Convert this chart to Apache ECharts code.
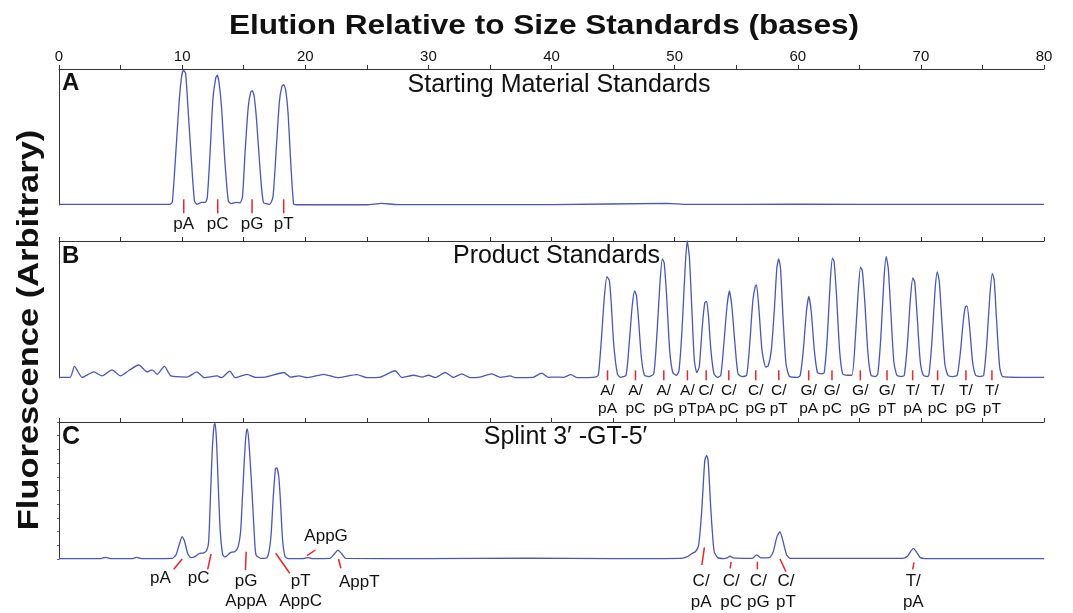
<!DOCTYPE html>
<html>
<head>
<meta charset="utf-8">
<title>Elution Relative to Size Standards</title>
<script src="https://cdn.jsdelivr.net/npm/echarts@6.0.0/dist/echarts.min.js"></script>
<style>
    html, body { margin: 0; padding: 0; background: #fff; }
    #chart { width: 1073px; height: 613px; }
</style>
</head>
<body>
<div id="chart"></div>
<script>
    // --- data: [bases, fluorescence 0..1] ---
    const traceA = [
        [0, 0.004], [5, 0.004], [9.0, 0.005], [9.2, 0.02], [9.5, 0.4], [9.75, 0.75], [9.95, 0.94], [10.1, 0.99],
        [10.28, 0.97], [10.45, 0.75], [10.7, 0.4], [11.0, 0.03], [11.2, 0.005], [11.6, 0.02], [11.9, 0.02],
        [12.05, 0.06], [12.28, 0.4], [12.5, 0.78], [12.72, 0.93], [12.85, 0.955], [13.0, 0.9], [13.2, 0.72],
        [13.45, 0.35], [13.75, 0.03], [14.0, 0.01], [14.4, 0.02], [14.7, 0.015], [14.9, 0.06], [15.12, 0.4],
        [15.37, 0.72], [15.57, 0.83], [15.7, 0.84], [15.85, 0.8], [16.05, 0.62], [16.3, 0.3], [16.6, 0.02],
        [17.1, 0.005], [17.38, 0.06], [17.65, 0.42], [17.9, 0.76], [18.1, 0.87], [18.25, 0.885], [18.4, 0.85],
        [18.6, 0.68], [18.8, 0.35], [19.05, 0.01], [19.3, 0.002], [25, 0.002], [26.2, 0.012], [27.5, 0.003],
        [40, 0.003], [49.4, 0.012], [51, 0.004], [60, 0.006], [70, 0.004], [80, 0.004]
    ];

    const traceB = [
        [0, 0.005], [0.9, 0.005], [1.26, 0.085], [1.88, 0.005], [2.83, 0.044], [3.5, 0.015], [4.3, 0.06],
        [5.0, 0.015], [5.67, 0.055], [6.48, 0.095], [7.16, 0.044], [7.56, 0.06], [7.97, 0.027], [8.56, 0.085],
        [9.1, 0.015], [10.4, 0.007], [11.2, 0.044], [11.8, 0.003], [12.84, 0.015], [13.2, 0.003], [13.87, 0.05],
        [14.3, 0.003], [15.27, 0.027], [15.95, 0.005], [16.75, 0.007], [18.25, 0.04], [18.8, 0.007], [19.5, 0.015],
        [20.2, 0.003], [21.5, 0.027], [22.6, 0.003], [24.2, 0.025], [25.0, 0.003], [26.1, 0.007], [27.3, 0.053],
        [27.86, 0.003], [28.8, 0.02], [29.5, 0.007], [30.0, 0.02], [30.56, 0.003], [31.37, 0.04], [32.05, 0.005],
        [32.7, 0.03], [33.4, 0.003], [34.2, 0.007], [35.16, 0.03], [35.84, 0.005], [36.65, 0.015], [37.05, 0.003],
        [38.5, 0.005], [39.2, 0.036], [39.76, 0.005], [40.3, 0.007], [41.0, 0.005], [41.57, 0.025], [42.06, 0.003],
        [43.55, 0.007],
        [43.8, 0.02], [44.05, 0.28], [44.3, 0.6], [44.5, 0.74], [44.7, 0.71], [44.85, 0.55], [45.05, 0.25], [45.35, 0.03], [45.6, 0.005],
        [46.05, 0.02], [46.3, 0.24], [46.55, 0.52], [46.75, 0.635], [46.9, 0.6], [47.05, 0.45], [47.3, 0.15], [47.55, 0.02], [47.9, 0.01],
        [48.3, 0.03], [48.55, 0.3], [48.8, 0.68], [49.0, 0.87], [49.15, 0.84], [49.35, 0.6], [49.6, 0.2], [49.85, 0.04], [50.15, 0.02],
        [50.35, 0.05], [50.6, 0.35], [50.85, 0.8], [51.02, 1.0], [51.2, 0.88], [51.4, 0.5], [51.6, 0.13], [51.8, 0.04],
        [52.0, 0.08], [52.25, 0.38], [52.45, 0.55], [52.6, 0.56], [52.75, 0.45], [52.95, 0.2], [53.2, 0.03], [53.5, 0.005],
        [53.75, 0.02], [54.0, 0.25], [54.25, 0.52], [54.45, 0.635], [54.65, 0.52], [54.9, 0.25], [55.15, 0.03], [55.5, 0.01],
        [55.85, 0.02], [56.1, 0.25], [56.35, 0.56], [56.55, 0.67], [56.65, 0.68], [56.85, 0.5], [57.1, 0.2], [57.4, 0.08], [57.6, 0.09],
        [57.85, 0.2], [58.1, 0.5], [58.3, 0.8], [58.45, 0.87], [58.6, 0.8], [58.8, 0.45], [59.05, 0.1], [59.35, 0.01], [60.0, 0.005],
        [60.2, 0.02], [60.45, 0.2], [60.7, 0.48], [60.9, 0.595], [61.1, 0.48], [61.35, 0.2], [61.6, 0.04], [61.9, 0.03],
        [62.15, 0.04], [62.4, 0.3], [62.65, 0.72], [62.82, 0.875], [62.95, 0.85], [63.15, 0.6], [63.4, 0.2], [63.65, 0.03], [64.0, 0.02],
        [64.4, 0.02], [64.65, 0.25], [64.9, 0.62], [65.1, 0.81], [65.25, 0.78], [65.45, 0.55], [65.7, 0.18], [65.95, 0.02], [66.3, 0.01],
        [66.5, 0.03], [66.75, 0.3], [67.0, 0.72], [67.18, 0.885], [67.35, 0.8], [67.55, 0.5], [67.8, 0.12], [68.05, 0.02], [68.4, 0.01],
        [68.65, 0.02], [68.9, 0.24], [69.15, 0.58], [69.35, 0.73], [69.5, 0.7], [69.7, 0.45], [69.95, 0.12], [70.2, 0.02], [70.5, 0.01],
        [70.65, 0.02], [70.9, 0.27], [71.15, 0.64], [71.33, 0.775], [71.5, 0.7], [71.7, 0.42], [71.95, 0.1], [72.2, 0.02], [72.6, 0.01],
        [72.95, 0.02], [73.2, 0.18], [73.45, 0.42], [73.62, 0.52], [73.75, 0.525], [73.95, 0.38], [74.2, 0.12], [74.45, 0.02], [74.8, 0.01],
        [75.1, 0.02], [75.35, 0.25], [75.6, 0.6], [75.8, 0.762], [75.95, 0.72], [76.15, 0.42], [76.4, 0.08], [76.65, 0.01],
        [78, 0.005], [80, 0.005]
    ];

    const traceC = [
        [0, 0.003], [3.4, 0.003], [3.78, 0.012], [4.2, 0.003], [6.0, 0.003], [6.3, 0.012], [6.7, 0.003],
        [9.2, 0.005], [9.5, 0.03], [9.75, 0.1], [10.0, 0.163], [10.2, 0.13], [10.45, 0.04], [10.7, 0.01],
        [11.0, 0.015], [11.4, 0.04], [11.75, 0.045], [11.98, 0.06], [12.15, 0.12], [12.3, 0.45], [12.45, 0.8],
        [12.6, 0.98], [12.68, 0.99], [12.8, 0.85], [12.95, 0.5], [13.1, 0.2], [13.3, 0.03], [13.5, 0.015],
        [13.9, 0.045], [14.3, 0.055], [14.55, 0.09], [14.75, 0.2], [14.9, 0.45], [15.05, 0.72], [15.18, 0.9],
        [15.28, 0.95], [15.4, 0.88], [15.55, 0.68], [15.7, 0.45], [15.85, 0.2], [16.0, 0.03], [16.4, 0.005],
        [16.9, 0.01], [17.2, 0.15], [17.4, 0.45], [17.58, 0.66], [17.68, 0.665], [17.85, 0.6], [18.0, 0.4],
        [18.15, 0.15], [18.35, 0.02], [18.6, 0.003], [19.8, 0.003], [20.2, 0.01], [20.6, 0.003], [22.0, 0.005],
        [22.35, 0.035], [22.65, 0.065], [22.95, 0.04], [23.3, 0.005], [30, 0.003], [38, 0.006], [45, 0.003],
        [50.5, 0.005], [51.0, 0.015], [51.4, 0.04], [51.7, 0.055], [51.95, 0.1], [52.2, 0.35], [52.45, 0.72],
        [52.6, 0.757], [52.72, 0.72], [52.95, 0.35], [53.2, 0.06], [53.5, 0.01], [54.0, 0.003], [54.3, 0.01],
        [54.5, 0.02], [54.75, 0.008], [56.3, 0.005], [56.65, 0.03], [57.0, 0.008], [57.7, 0.01], [58.0, 0.05],
        [58.3, 0.16], [58.55, 0.2], [58.8, 0.13], [59.1, 0.03], [59.4, 0.005], [68.5, 0.005], [68.9, 0.02],
        [69.2, 0.06], [69.4, 0.078], [69.65, 0.05], [69.95, 0.01], [70.3, 0.003], [80, 0.003]
    ];

    // peak labels
    const aLabelX = [10.13, 12.89, 15.68, 18.25];
    const aLabels = ['pA', 'pC', 'pG', 'pT'];

    const bLabelX = [44.55, 46.82, 49.12, 51.04, 52.56, 54.4, 56.59, 58.46, 60.89, 62.78, 65.08, 67.25, 69.33, 71.36, 73.66, 75.77];
    const bLabelTop = ['A/', 'A/', 'A/', 'A/', 'C/', 'C/', 'C/', 'C/', 'G/', 'G/', 'G/', 'G/', 'T/', 'T/', 'T/', 'T/'];
    const bLabelBottom = ['pA', 'pC', 'pG', 'pT', 'pA', 'pC', 'pG', 'pT', 'pA', 'pC', 'pG', 'pT', 'pA', 'pC', 'pG', 'pT'];

    const cLabelX = [10.0, 12.35, 15.2, 17.6, 20.15, 22.7, 52.42, 54.59, 56.72, 58.56, 69.44];
    const cLabelTop = ['pA', 'pC', 'pG', 'pT', 'AppG', 'AppT', 'C/', 'C/', 'C/', 'C/', 'T/'];
    const cLabelBottom = ['', '', 'AppA', 'AppC', '', '', 'pA', 'pC', 'pG', 'pT', 'pA'];

    // leader-line layout for panel C, px from the baseline point: [y0, dx1, dy1, textDx, rowTop, rowBottom]
    const cLeader = [
        [0, -8.4, 10.3, -21.7, 19.5, 0],
        [-5, -3.4, 10.3, -12.4, 19.5, 0],
        [-7.3, -0.7, 11, 0, 22, 42],
        [-5.7, 14, 14.3, 25, 22.5, 42],
        [-3.3, 8.3, -9, 19, -23, 0],
        [0, 2.4, 9.3, 20.7, 23.5, 0],
        [-11.7, -2.6, 6, -3.3, 22, 43],
        [3, -1, 9.3, 0, 22, 43],
        [2.7, 0, 10.3, 1, 22, 43],
        [0, 6, 12.7, 6, 22, 43],
        [3.3, -1.3, 10.3, -0.7, 22, 43]
    ];

    const BLUE = '#4956ba';
    const RED = '#e8262b';
    const AXIS = '#333';
    const INK = '#111';
    const SANS = '"Liberation Sans", Arial, sans-serif';

    const grids = [
        { left: 59, right: 29, top: 69, height: 136 },
        { left: 59, right: 29, top: 241, height: 137 },
        { left: 59, right: 29, top: 422, height: 137 }
    ];

    function xAxisFor(i) {
        return {
            gridIndex: i, type: 'value', position: 'top', min: 0, max: 80, interval: 5,
            axisLine: { show: true, onZero: false, lineStyle: { color: AXIS, width: 1 } },
            axisTick: { show: true, length: 4, lineStyle: { color: AXIS } },
            axisLabel: {
                show: i === 0, margin: 5, fontSize: 15, color: INK, fontFamily: SANS,
                formatter: v => (v % 10 === 0 ? String(v) : '')
            },
            splitLine: { show: false }
        };
    }

    function yAxisFor(i) {
        return {
            gridIndex: i, type: 'value', min: 0, max: 1, interval: 0.1,
            axisLine: { show: true, onZero: false, lineStyle: { color: AXIS, width: 1 } },
            axisTick: { show: i === 2, length: 2, lineStyle: { color: '#666' } },
            axisLabel: { show: false },
            splitLine: { show: false }
        };
    }

    function trace(i, data) {
        return {
            type: 'line', xAxisIndex: i, yAxisIndex: i, data: data,
            showSymbol: false, smooth: 0.2, clip: false, silent: true,
            lineStyle: { color: BLUE, width: 1.3 }
        };
    }

    function txt(s, x, y, size) {
        return {
            type: 'text', x: x, y: y,
            style: { text: s, align: 'center', verticalAlign: 'middle', font: size + 'px ' + SANS, fill: INK }
        };
    }

    function redLine(x1, y1, x2, y2) {
        return { type: 'line', shape: { x1: x1, y1: y1, x2: x2, y2: y2 }, style: { stroke: RED, lineWidth: 1.5 } };
    }

    const labelsA = {
        type: 'custom', coordinateSystem: 'cartesian2d', xAxisIndex: 0, yAxisIndex: 0, silent: true,
        data: aLabelX.map(x => [x, 0]),
        renderItem: function (params, api) {
            const p = api.coord([api.value(0), 0]);
            const k = params.dataIndex;
            return {
                type: 'group', children: [
                    redLine(p[0], p[1] - 5.7, p[0], p[1] + 8.3),
                    txt(aLabels[k], p[0], p[1] + 19, 17)
                ]
            };
        }
    };

    const labelsB = {
        type: 'custom', coordinateSystem: 'cartesian2d', xAxisIndex: 1, yAxisIndex: 1, silent: true,
        data: bLabelX.map(x => [x, 0]),
        renderItem: function (params, api) {
            const p = api.coord([api.value(0), 0]);
            const k = params.dataIndex;
            return {
                type: 'group', children: [
                    redLine(p[0], p[1] - 7.7, p[0], p[1] + 2.3),
                    txt(bLabelTop[k], p[0], p[1] + 12.6, 15.5),
                    txt(bLabelBottom[k], p[0], p[1] + 31, 15.5)
                ]
            };
        }
    };

    const labelsC = {
        type: 'custom', coordinateSystem: 'cartesian2d', xAxisIndex: 2, yAxisIndex: 2, silent: true,
        data: cLabelX.map(x => [x, 0]),
        renderItem: function (params, api) {
            const p = api.coord([api.value(0), 0]);
            const k = params.dataIndex;
            const L = cLeader[k];
            const kids = [
                redLine(p[0], p[1] + L[0], p[0] + L[1], p[1] + L[2]),
                txt(cLabelTop[k], p[0] + L[3], p[1] + L[4], 17)
            ];
            if (cLabelBottom[k]) kids.push(txt(cLabelBottom[k], p[0] + L[3], p[1] + L[5], 17));
            return { type: 'group', children: kids };
        }
    };

    // bold heading text: Arial-like face, widened a little like the figure's lettering
    function boldText(s, x, y, size, stretch, rot) {
        return {
            type: 'text', x: x, y: y, rotation: rot || 0, scaleX: stretch,
            style: { text: s, align: 'center', verticalAlign: 'middle', font: 'bold ' + size + 'px ' + SANS, fill: INK }
        };
    }

    const chart = echarts.init(document.getElementById('chart'));
    chart.setOption({
        animation: false,
        backgroundColor: '#fff',
        grid: grids.map(g => Object.assign({ outerBoundsMode: 'none' }, g)),
        xAxis: [0, 1, 2].map(xAxisFor),
        yAxis: [0, 1, 2].map(yAxisFor),
        series: [trace(0, traceA), trace(1, traceB), trace(2, traceC), labelsA, labelsB, labelsC],
        graphic: [
            boldText('Elution Relative to Size Standards (bases)', 544, 27, 27, 1.17),
            boldText('Fluorescence (Arbitrary)', 30, 330, 30, 1.15, Math.PI / 2),
            { type: 'text', x: 62, y: 83.5, style: { text: 'A', verticalAlign: 'middle', font: 'bold 24px ' + SANS, fill: INK } },
            { type: 'text', x: 62, y: 256.7, style: { text: 'B', verticalAlign: 'middle', font: 'bold 24px ' + SANS, fill: INK } },
            { type: 'text', x: 62, y: 437, style: { text: 'C', verticalAlign: 'middle', font: 'bold 25px ' + SANS, fill: INK } },
            {
                type: 'text', x: 559, y: 84.7,
                style: { text: 'Starting Material Standards', align: 'center', verticalAlign: 'middle', font: '25px ' + SANS, fill: INK }
            },
            {
                type: 'text', x: 556.5, y: 256,
                style: { text: 'Product Standards', align: 'center', verticalAlign: 'middle', font: '25px ' + SANS, fill: INK }
            },
            {
                type: 'text', x: 565.5, y: 437,
                style: { text: 'Splint 3\u2032 -GT-5\u2032', align: 'center', verticalAlign: 'middle', font: '25px ' + SANS, fill: INK }
            }
        ]
    });
</script>
</body>
</html>
